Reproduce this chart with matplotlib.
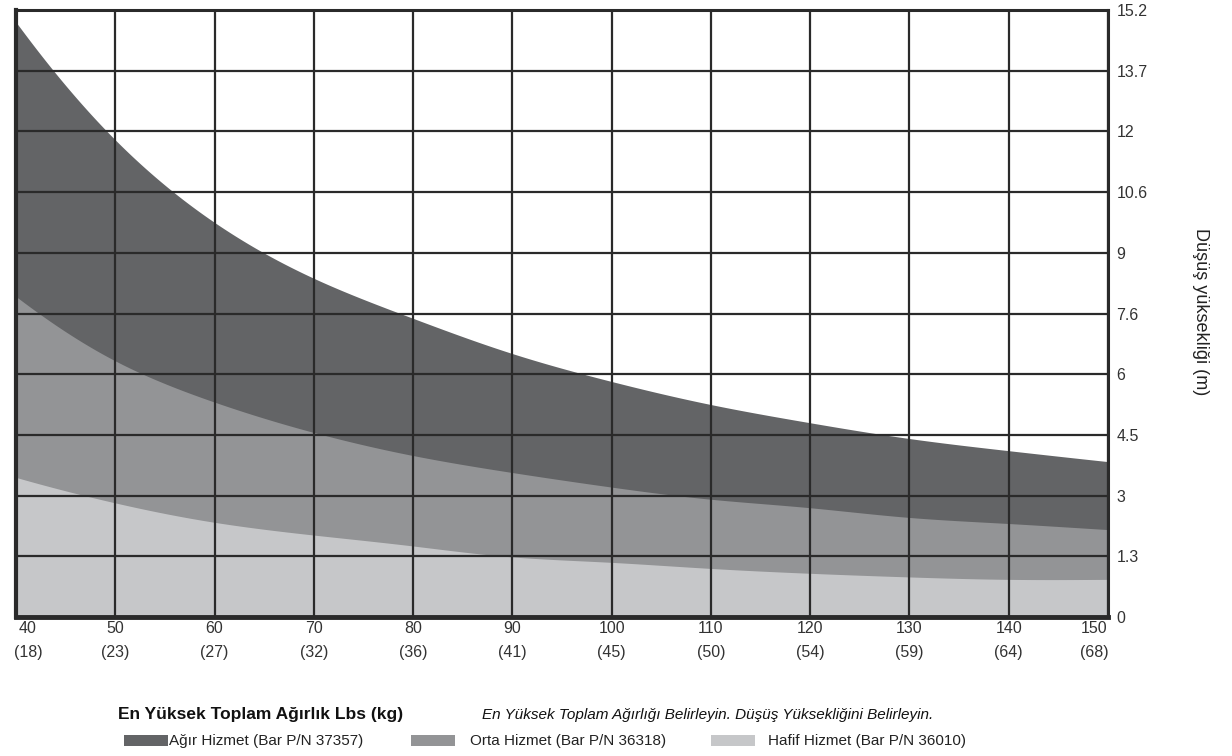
import matplotlib
matplotlib.use("Agg")
import matplotlib.pyplot as plt
import matplotlib.transforms as mtransforms
from matplotlib.patches import Rectangle
import numpy as np

plt.rcParams['font.family'] = ['Liberation Sans', 'DejaVu Sans']

# ---- data (drop height in feet on a 0..50 ft scale) ----
weights_lbs = [40, 50, 60, 70, 80, 90, 100, 110, 120, 130, 140, 150]
weights_kg = [18, 23, 27, 32, 36, 41, 45, 50, 54, 59, 64, 68]
heavy_ft = [49.0, 39.3, 32.5, 27.9, 24.6, 21.7, 19.4, 17.5, 16.0, 14.7, 13.7, 12.8]
medium_ft = [26.4, 21.1, 17.7, 15.2, 13.3, 11.9, 10.7, 9.7, 9.0, 8.2, 7.7, 7.2]
light_ft = [11.5, 9.4, 7.8, 6.75, 5.85, 4.95, 4.5, 4.0, 3.6, 3.3, 3.1, 3.1]
y_ticks_ft = [0, 5, 10, 15, 20, 25, 30, 35, 40, 45, 50]
y_labels_m = ["0", "1.3", "3", "4.5", "6", "7.6", "9", "10.6", "12", "13.7", "15.2"]
series_names = ["Ağır Hizmet (Bar P/N 37357)", "Orta Hizmet (Bar P/N 36318)",
                "Hafif Hizmet (Bar P/N 36010)"]
colors = ["#636466", "#939496", "#c6c7c9"]

W, H = 1232, 756
fig = plt.figure(figsize=(W / 100, H / 100), dpi=100)
ax = fig.add_axes([16 / W, (H - 617) / H, (1108 - 16) / W, (617 - 10) / H])

xs = np.linspace(weights_lbs[0], weights_lbs[-1], 500)


def natural_spline(x, y, xq):
    x = np.asarray(x, float)
    y = np.asarray(y, float)
    n = len(x)
    h = np.diff(x)
    A = np.zeros((n, n))
    b = np.zeros(n)
    A[0, 0] = A[-1, -1] = 1
    for i in range(1, n - 1):
        A[i, i - 1] = h[i - 1]
        A[i, i] = 2 * (h[i - 1] + h[i])
        A[i, i + 1] = h[i]
        b[i] = 3 * ((y[i + 1] - y[i]) / h[i] - (y[i] - y[i - 1]) / h[i - 1])
    c = np.linalg.solve(A, b)
    bb = (np.diff(y) / h) - h * (2 * c[:-1] + c[1:]) / 3
    d = np.diff(c) / (3 * h)
    idx = np.clip(np.searchsorted(x, xq) - 1, 0, n - 2)
    t = xq - x[idx]
    return y[idx] + bb[idx] * t + c[idx] * t ** 2 + d[idx] * t ** 3


def smooth(vals):
    return np.exp(natural_spline(weights_lbs, np.log(vals), xs))


for vals, c in zip([heavy_ft, medium_ft, light_ft], colors):
    ax.fill_between(xs, 0, smooth(vals), color=c, lw=0, zorder=1)

ax.set_xlim(40, 150)
ax.set_ylim(0, 50)
ax.set_xticks(weights_lbs)
ax.set_xticklabels([f"{a}\n({b})" for a, b in zip(weights_lbs, weights_kg)],
                   fontsize=11.5, color="#333333", linespacing=1.75)
ax.set_yticks(y_ticks_ft)
ax.set_yticklabels(y_labels_m, fontsize=11.5, color="#333333")
ax.yaxis.tick_right()
ax.tick_params(axis='both', length=0)
ax.tick_params(axis='y', pad=6)
ax.tick_params(axis='x', pad=3)

labels = ax.get_xticklabels()
labels[0].set_transform(labels[0].get_transform() +
                        mtransforms.ScaledTranslation(12 / 100, 0, fig.dpi_scale_trans))
labels[-1].set_transform(labels[-1].get_transform() +
                         mtransforms.ScaledTranslation(-14 / 100, 0, fig.dpi_scale_trans))

ax.set_axisbelow(False)
ax.grid(True, color="#2a2a2a", linewidth=1.6)

for side, lw in [("left", 3), ("bottom", 3.5), ("top", 2.2), ("right", 2.2)]:
    ax.spines[side].set_linewidth(lw)
    ax.spines[side].set_color("#2a2a2a")
    ax.spines[side].set_zorder(4)

fig.text(1200 / W, 1 - 312 / H, "Düşüş yüksekliği (m)", rotation=270,
         ha="center", va="center", fontsize=13, color="#222222")

fig.text(118 / W, 1 - 715 / H, "En Yüksek Toplam Ağırlık Lbs (kg)",
         fontsize=12.5, fontweight="bold", ha="left", va="center", color="#111111")
fig.text(482 / W, 1 - 715 / H,
         "En Yüksek Toplam Ağırlığı Belirleyin. Düşüş Yüksekliğini Belirleyin.",
         fontsize=11, fontstyle="italic", ha="left", va="center", color="#111111")

legend_x = [124, 411, 711]
text_x = [169, 470, 768]
for lx, tx, name, c in zip(legend_x, text_x, series_names, colors):
    fig.patches.append(Rectangle((lx / W, 1 - 746 / H), 44 / W, 11 / H,
                                 transform=fig.transFigure, color=c, lw=0))
    fig.text(tx / W, 1 - 741 / H, name, fontsize=11, ha="left", va="center",
             color="#222222")

fig.savefig("out.png", dpi=100)
